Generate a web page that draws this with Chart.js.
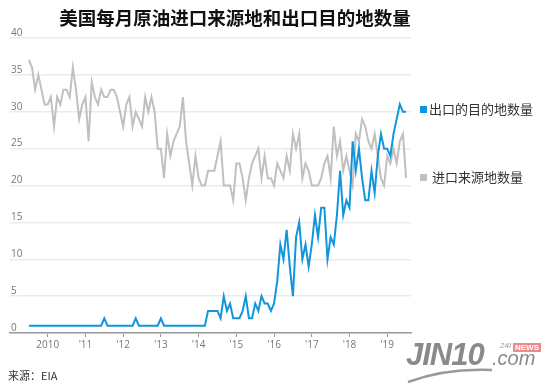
<!DOCTYPE html>
<html>
<head>
<meta charset="utf-8">
<script src="https://cdn.jsdelivr.net/npm/chart.js@4.4.1/dist/chart.umd.min.js"></script>
<style>
  html, body { margin: 0; padding: 0; background: #fff; }
  #wrap { position: relative; width: 550px; height: 386px; overflow: hidden; font-family: "Noto Sans CJK SC", sans-serif; }
  #chart { position: absolute; left: 0; top: 0; }
  .title { position: absolute; left: 0; width: 470px; top: 4px; text-align: center; font-size: 18.5px; font-weight: 700; color: #111; line-height: 26px; }
  .lab { position: absolute; left: 420px; font-size: 13px; color: #333; line-height: 16px; white-space: nowrap; }
  .lab i { display: inline-block; width: 7px; height: 7px; margin-right: 2px; vertical-align: 1px; }
  .src { position: absolute; left: 8px; top: 367px; font-size: 11px; color: #333; }
  .logo { position: absolute; left: 406px; top: 337px; width: 140px; height: 49px; font-family: "Liberation Sans", Arial, sans-serif; color: #8a8a8a; }
  .logo .big { position: absolute; left: 0; top: 0; font-size: 31px; font-weight: 700; font-style: italic; letter-spacing: -1px; }
  .logo .com { position: absolute; left: 86px; top: 10px; font-size: 20px; font-style: italic; }
  .logo .n24 { position: absolute; left: 94px; top: 4px; font-size: 8px; font-style: italic; color: #999; }
  .logo .news { position: absolute; left: 107px; top: 6px; font-size: 8px; font-weight: 700; color: #fff; background: #f08a8a; padding: 0 2px; line-height: 9px; }
  .logo svg { position: absolute; left: 0; top: 0; }
</style>
</head>
<body>
<div id="wrap">
  <canvas id="chart" width="550" height="386"></canvas>
  <div class="title">美国每月原油进口来源地和出口目的地数量</div>
  <div class="lab" style="top:101px"><i style="background:#1296db"></i>出口的目的地数量</div>
  <div class="lab" style="top:169px"><i style="background:#c0c0c0"></i> 进口来源地数量</div>
  <div class="src">来源：EIA</div>
  <div class="logo">
    <svg width="140" height="49"><path d="M2 45 Q40 31 86 33" stroke="#9a9a9a" stroke-width="2.5" fill="none"/></svg>
    <span class="big">JIN10</span><span class="com">.com</span>
    <span class="n24">24I</span><span class="news">NEWS</span>
  </div>
</div>
<script>
const theme = {
  blue: '#1296db',
  gray: '#c0c0c0',
  grid: '#ebebeb',
  axis: '#9a9a9a',
  tick: '#777',
};

// monthly, Jul 2009 .. Jul 2019
const firstMonth = [2009, 7];
const monthCount = 121;
const months = [];
for (let i = 0; i < monthCount; i++) {
  const m = firstMonth[1] - 1 + i;
  months.push(`${firstMonth[0] + Math.floor(m / 12)}-${String(m % 12 + 1).padStart(2, '0')}`);
}

const exportDest = [
  1, 1, 1, 1, 1, 1, 1, 1, 1, 1,
  1, 1, 1, 1, 1, 1, 1, 1, 1, 1,
  1, 1, 1, 1, 2, 1, 1, 1, 1, 1,
  1, 1, 1, 1, 2, 1, 1, 1, 1, 1,
  1, 1, 2, 1, 1, 1, 1, 1, 1, 1,
  1, 1, 1, 1, 1, 1, 1, 3, 3, 3,
  3, 2, 5, 3, 4, 2, 2, 2, 3, 5,
  2, 2, 4, 3, 5, 4, 4, 3, 4, 7,
  12, 10, 14, 9, 5, 13, 15, 10, 12, 9,
  12, 16, 13, 17, 17, 10, 13, 12, 16, 22,
  16, 18, 17, 26, 22, 25, 21, 18, 18, 22,
  19, 24, 27, 25, 25, 24, 27, 29, 31, 30,
  30,
];

const importSrc = [
  37, 36, 33, 35, 33, 31, 31, 32, 28, 32,
  31, 33, 33, 32, 36, 33, 29, 31, 32, 26,
  34, 32, 31, 33, 32, 32, 33, 33, 32, 30,
  28, 31, 32, 28, 30, 29, 28, 32, 30, 32,
  30, 25, 25, 21, 27, 24, 26, 27, 28, 32,
  26, 23, 20, 24, 21, 20, 20, 22, 22, 22,
  24, 26, 20, 20, 20, 18, 23, 23, 21, 18,
  21, 23, 24, 25, 21, 24, 21, 21, 20, 23,
  22, 21, 24, 22, 27, 25, 27, 21, 23, 22,
  20, 20, 20, 21, 23, 24, 21, 28, 24, 26,
  22, 24, 22, 20, 27, 26, 29, 28, 26, 25,
  27, 24, 21, 20, 24, 23, 25, 23, 26, 27,
  21,
];

const xTickYears = [2010, 2011, 2012, 2013, 2014, 2015, 2016, 2017, 2018, 2019];
const xTickLabels = ['2010', "'11", "'12", "'13", "'14", "'15", "'16", "'17", "'18", "'19"];
const yTicks = [0, 5, 10, 15, 20, 25, 30, 35, 40];

function monthPos(s) {
  const [y, m] = s.split('-').map(Number);
  return y + (m - 1) / 12;
}

const points = vals => vals.map((v, i) => ({ x: monthPos(months[i]), y: v }));

new Chart(document.getElementById('chart'), {
  type: 'line',
  data: {
    datasets: [
      { label: '出口的目的地数量', data: points(exportDest), borderColor: theme.blue, borderWidth: 2 },
      { label: '进口来源地数量', data: points(importSrc), borderColor: theme.gray, borderWidth: 2 },
    ],
  },
  options: {
    responsive: false,
    animation: false,
    layout: { padding: { left: 8, right: 139, top: 38, bottom: 33 } },
    elements: { point: { radius: 0 }, line: { tension: 0 } },
    scales: {
      x: {
        type: 'linear',
        min: 2009,
        max: 2019.63,
        afterBuildTicks: s => { s.ticks = xTickYears.map(v => ({ value: v })); },
        grid: { drawOnChartArea: false, tickLength: 4, tickColor: theme.axis, tickWidth: 1 },
        border: { display: true, color: theme.axis, width: 1.5 },
        ticks: {
          padding: 2,
          color: theme.tick,
          font: { family: 'Open Sans', size: 10 },
          maxRotation: 0,
          callback: v => xTickLabels[xTickYears.indexOf(v)] ?? '',
        },
      },
      y: {
        min: 0,
        max: 40,
        afterBuildTicks: s => { s.ticks = yTicks.map(v => ({ value: v })); },
        grid: { color: theme.grid, lineWidth: 1.5, drawTicks: false },
        border: { display: false },
        ticks: {
          mirror: true,
          padding: 1,
          labelOffset: -5,
          color: theme.tick,
          font: { family: 'Open Sans', size: 10 },
        },
      },
    },
    plugins: {
      legend: { display: false },
      tooltip: { enabled: false },
    },
  },
});
</script>
</body>
</html>
